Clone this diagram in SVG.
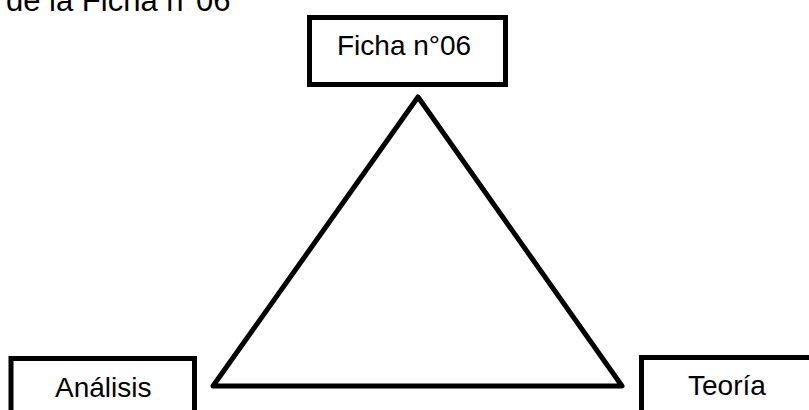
<svg xmlns="http://www.w3.org/2000/svg" width="809" height="410" viewBox="0 0 809 410">
<style>
.box{fill:#fff;stroke:#000;stroke-width:5}
.t{font-family:"Liberation Sans",Arial,sans-serif;font-size:28px;fill:#000}
.edge{fill:none;stroke:#000;stroke-width:5;stroke-linejoin:round}
</style>
<rect width="809" height="410" fill="#fff"/>
<text class="t" x="6" y="11" style="font-size:31px">de la Ficha n°06</text>
<g id="connectors">
<path class="edge" d="M418 97 L622 386 L213 386 Z"/>
</g>
<g id="ficha">
<rect class="box" x="309.5" y="17.5" width="196" height="67"/>
<text class="t" x="337" y="55">Ficha n°06</text>
</g>
<g id="analisis">
<rect class="box" x="11" y="358.5" width="183.5" height="70"/>
<text class="t" x="55" y="397">Análisis</text>
</g>
<g id="teoria">
<rect class="box" x="641.5" y="357.5" width="190" height="70"/>
<text class="t" x="688" y="395">Teoría</text>
</g>
</svg>
